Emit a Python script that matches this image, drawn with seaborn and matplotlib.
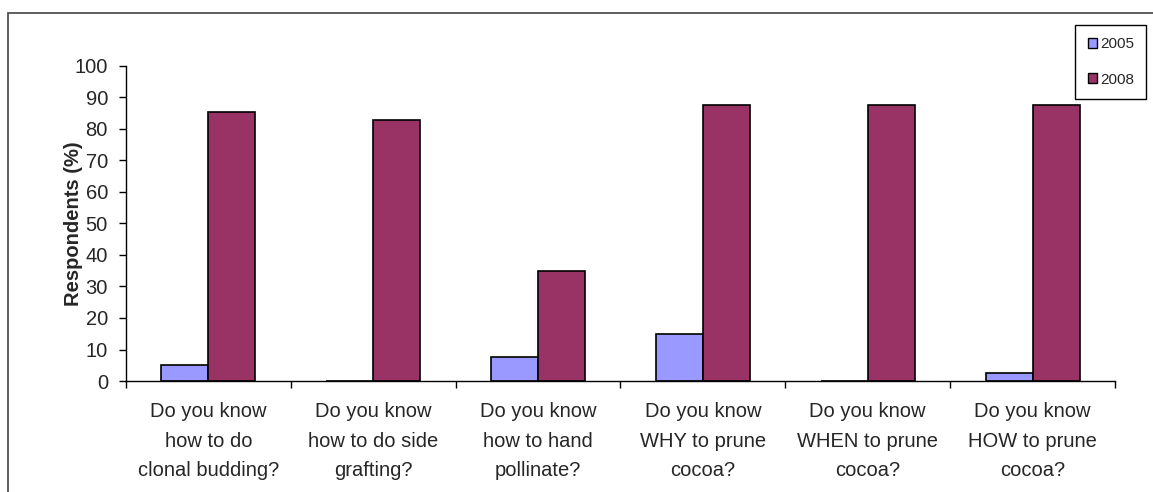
import matplotlib.pyplot as plt
import matplotlib.patches as mpatches
import seaborn as sns
import pandas as pd
import numpy as np

questions = [
    "Do you know\nhow to do\nclonal budding?",
    "Do you know\nhow to do side\ngrafting?",
    "Do you know\nhow to hand\npollinate?",
    "Do you know\nWHY to prune\ncocoa?",
    "Do you know\nWHEN to prune\ncocoa?",
    "Do you know\nHOW to prune\ncocoa?",
]
years = ["2005", "2008"]
vals_2005 = [5, 0, 7.5, 15, 0, 2.5]
vals_2008 = [85.5, 83, 35, 87.5, 87.5, 87.5]
colors = {"2005": "#9999FF", "2008": "#993366"}

df = pd.DataFrame({
    "question": questions * 2,
    "year": ["2005"] * len(questions) + ["2008"] * len(questions),
    "value": vals_2005 + vals_2008,
})

sns.set_style("white")
plt.rcParams["font.family"] = ["Liberation Sans", "DejaVu Sans"]

fig = plt.figure(figsize=(11.53, 4.92), dpi=100)
ax = fig.add_axes([0.1093, 0.2256, 0.967 - 0.1093, 0.8659 - 0.2256])

sns.barplot(data=df, x="question", y="value", hue="year", order=questions,
            hue_order=years, palette=colors, saturation=1, width=0.57,
            edgecolor="black", linewidth=1.2, ax=ax, legend=False)

ax.set_xlim(-0.5, len(questions) - 0.5)
ax.set_ylim(0, 100)
ax.set_yticks(np.arange(0, 101, 10))
ax.tick_params(axis="y", labelsize=14.5, length=5, width=1, direction="out",
               left=True, color="black", pad=8)
ax.set_xticks(range(len(questions)))
ax.set_xticklabels(questions, fontsize=14.5, linespacing=1.72)
ax.tick_params(axis="x", which="major", length=0, pad=15)
ax.set_xticks(np.arange(-0.5, len(questions), 1), minor=True)
ax.tick_params(axis="x", which="minor", length=5, width=1, bottom=True,
               color="black")
ax.set_xlabel("")
ax.set_ylabel("Respondents (%)", fontsize=14.5, fontweight="bold")
ax.yaxis.set_label_coords(-0.043, 0.5)
for s in ["top", "right"]:
    ax.spines[s].set_visible(False)
for s in ["left", "bottom"]:
    ax.spines[s].set_color("black")
    ax.spines[s].set_linewidth(1)

# outer chart-area border
fig.patches.append(mpatches.Rectangle((8 / 1153, -0.1), 1.2, 1 - 13 / 492 + 0.1,
                                      transform=fig.transFigure, fill=False,
                                      edgecolor="#444444", linewidth=1.2))

handles = [mpatches.Patch(facecolor=colors[y], edgecolor="black", label=y)
           for y in years]
fig.legend(handles=handles, loc="upper right",
           bbox_to_anchor=(1146 / 1153, 1 - 25 / 492), borderaxespad=0,
           fontsize=11, frameon=True, fancybox=False, edgecolor="black",
           framealpha=1, handlelength=0.6, handleheight=0.6,
           handletextpad=0.2, labelspacing=1.4, borderpad=0.8)

fig.savefig("out.png", dpi=100)
